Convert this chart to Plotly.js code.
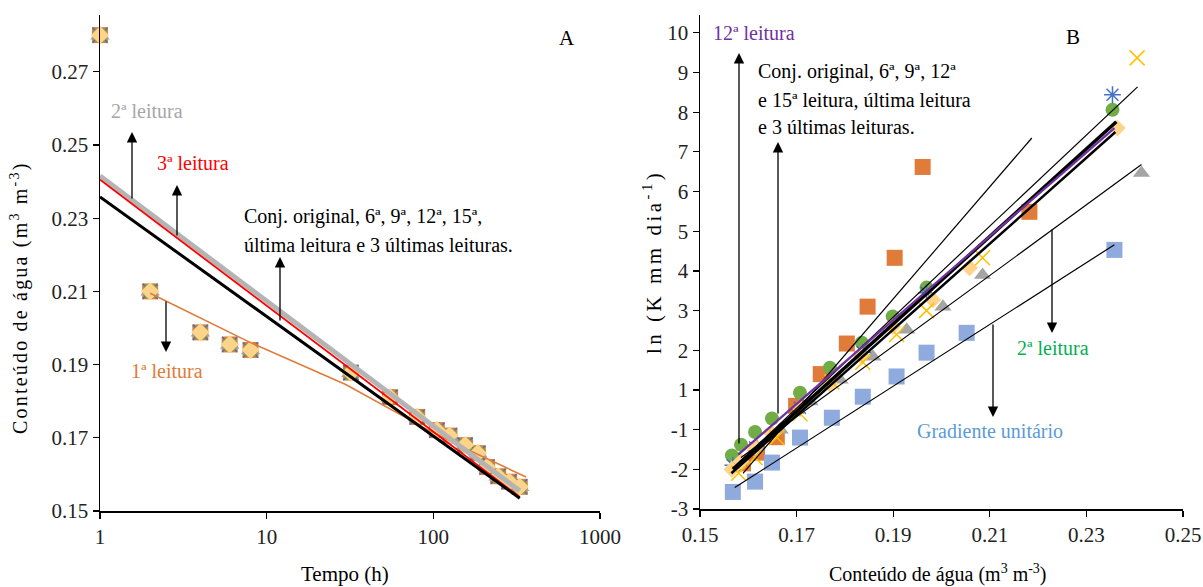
<!DOCTYPE html>
<html>
<head>
<meta charset="utf-8">
<script src="https://cdn.plot.ly/plotly-3.0.1.min.js"></script>
<style>html,body{margin:0;padding:0;background:#fff;}#chart{width:1203px;height:587px;}</style>
</head>
<body>
<div id="chart"></div>
<script>
// ---------- Panel A data ----------
const tempoH = [1, 2, 4, 6, 8, 32, 55, 80, 105, 125, 155, 185, 210, 245, 285, 330];
const umidadeA = [0.280, 0.210, 0.1988, 0.1955, 0.194, 0.1878, 0.1811, 0.1757, 0.1721, 0.1706, 0.168, 0.1658, 0.162, 0.1595, 0.158, 0.1566];

// fitted lines panel A
const linhaCinzaT = [1, 330];
const linhaCinzaY = [0.2415, 0.1555];
const linhaVermT = [1, 330];
const linhaVermY = [0.2405, 0.1538];
const linhaPretaT = [1, 330];
const linhaPretaY = [0.2358, 0.1535];
const linhaLaranjaT = [2, 8, 30, 90, 160, 360];
const linhaLaranjaY = [0.2095, 0.196, 0.1845, 0.1725, 0.1668, 0.1593];

// ---------- Panel B data ----------
const laranjaX = [0.1589, 0.1618, 0.1659, 0.1699, 0.1750, 0.1804, 0.1847, 0.1903, 0.1961, 0.2182];
const laranjaY = [-0.85, -0.58, -0.19, 0.6, 1.4, 2.17, 3.1, 4.33, 6.62, 5.49];
const azulX = [0.1568, 0.1614, 0.1649, 0.1707, 0.1773, 0.1837, 0.1907, 0.1969, 0.2052, 0.2358];
const azulY = [-1.57, -1.31, -0.83, -0.2, 0.3, 0.83, 1.34, 1.94, 2.44, 4.53];
const cinzaX = [0.158, 0.1618, 0.1666, 0.1728, 0.179, 0.1858, 0.1928, 0.2003, 0.2085, 0.2414];
const cinzaY = [-0.76, -0.43, 0.0, 0.71, 1.26, 1.84, 2.52, 3.10, 3.90, 6.47];
const verdeX = [0.1566, 0.1585, 0.1614, 0.1649, 0.1707, 0.1769, 0.1835, 0.1899, 0.1969, 0.2354];
const verdeY = [-0.65, -0.38, -0.06, 0.28, 0.93, 1.56, 2.19, 2.85, 3.58, 8.06];
const pessegoX = [0.1566, 0.1585, 0.1614, 0.1649, 0.1707, 0.1769, 0.1835, 0.1899, 0.1982, 0.2058, 0.2364];
const pessegoY = [-1.0, -0.8, -0.45, -0.1, 0.55, 1.15, 1.85, 2.6, 3.27, 4.08, 7.6];
const amareloX = [0.158, 0.1614, 0.1659, 0.1707, 0.1773, 0.1837, 0.1907, 0.1969, 0.2085, 0.2405];
const amareloY = [-1.1, -0.7, -0.2, 0.4, 1.2, 1.7, 2.4, 3.0, 4.33, 9.37];
const asteriscoX = [0.1568, 0.1614, 0.1707, 0.1837, 0.1969, 0.2354];
const asteriscoY = [-0.9, -0.45, 0.55, 1.95, 3.45, 8.44];

// fitted lines panel B
const retaPretaX = [0.1568, 0.2362];
const retaPretaY = [-1.0, 7.76];
const retaPreta2X = [0.1570, 0.2406];
const retaPreta2Y = [-0.95, 8.64];
const retaPreta3X = [0.1565, 0.2360];
const retaPreta3Y = [-1.1, 7.5];
const retaRoxaX = [0.1579, 0.2358];
const retaRoxaY = [-0.63, 7.6];
const retaLaranjaX = [0.1589, 0.2187];
const retaLaranjaY = [-1.1, 7.35];
const retaCinzaX = [0.1585, 0.2414];
const retaCinzaY = [-0.7, 6.68];
const retaAzulX = [0.1572, 0.2358];
const retaAzulY = [-1.46, 4.66];

// tick labels
const ticksAx = [1, 10, 100, 1000];
const ticksAxText = ['1', '10', '100', '1000'];
const ticksAy = [0.15, 0.17, 0.19, 0.21, 0.23, 0.25, 0.27];
const ticksBx = [0.15, 0.17, 0.19, 0.21, 0.23, 0.25];
const ticksBy = [-2, -1, 0, 1, 2, 3, 4, 5, 6, 7, 8, 9, 10];
const ticksByText = ['-3', '-2', '-1', '1', '2', '3', '4', '5', '6', '7', '8', '9', '10'];

const FONT = 'Liberation Serif, Times New Roman, serif';
const traces = [];

function mk(x, y, sym, size, color, xa, ya, lineColor) {
  return {x: x, y: y, xaxis: xa, yaxis: ya, type: 'scatter', mode: 'markers', cliponaxis: false,
    marker: {symbol: sym, size: size, color: color, line: {width: lineColor ? 1.5 : 0, color: lineColor || color}},
    hoverinfo: 'skip'};
}
function ln(x, y, color, w, xa, ya) {
  return {x: x, y: y, xaxis: xa, yaxis: ya, type: 'scatter', mode: 'lines', cliponaxis: false,
    line: {color: color, width: w}, hoverinfo: 'skip'};
}

// Panel A markers (overlapping series)
traces.push(mk(tempoH, umidadeA, 'square', 16, '#E07B39', 'x', 'y'));
traces.push(mk(tempoH, umidadeA, 'triangle-up', 17, '#A5A5A5', 'x', 'y'));
traces.push(mk(tempoH, umidadeA, 'x-thin', 15, '#4472C4', 'x', 'y', '#4472C4'));
traces.push(mk(tempoH, umidadeA, 'circle', 15, '#70AD47', 'x', 'y'));
traces.push(mk(tempoH, umidadeA, 'diamond', 14, '#FFD38A', 'x', 'y'));
// Panel A lines
traces.push(ln(linhaLaranjaT, linhaLaranjaY, '#E07B39', 1.6, 'x', 'y'));
traces.push(ln(linhaCinzaT, linhaCinzaY, '#B4B4B4', 5, 'x', 'y'));
traces.push(ln(linhaVermT, linhaVermY, '#FF0000', 1.8, 'x', 'y'));
traces.push(ln(linhaPretaT, linhaPretaY, '#000000', 3, 'x', 'y'));

// Panel B markers
traces.push(mk(laranjaX, laranjaY, 'square', 16, '#E07B39', 'x2', 'y2'));
traces.push(mk(azulX, azulY, 'square', 16, '#8FAADC', 'x2', 'y2'));
traces.push(mk(cinzaX, cinzaY, 'triangle-up', 15, '#A5A5A5', 'x2', 'y2'));
traces.push(mk(verdeX, verdeY, 'circle', 14, '#70AD47', 'x2', 'y2'));
traces.push(mk(asteriscoX, asteriscoY, 'asterisk-open', 14, '#4472C4', 'x2', 'y2', '#4472C4'));
traces.push(mk(pessegoX, pessegoY, 'diamond', 13, '#FFD38A', 'x2', 'y2'));
traces.push(mk(amareloX, amareloY, 'x-thin-open', 15, '#FFC000', 'x2', 'y2', '#FFC000'));
// Panel B lines
traces.push(ln(retaAzulX, retaAzulY, '#000000', 1.2, 'x2', 'y2'));
traces.push(ln(retaCinzaX, retaCinzaY, '#000000', 1.2, 'x2', 'y2'));
traces.push(ln(retaLaranjaX, retaLaranjaY, '#000000', 1.2, 'x2', 'y2'));
traces.push(ln(retaPreta3X, retaPreta3Y, '#000000', 2.5, 'x2', 'y2'));
traces.push(ln(retaPretaX, retaPretaY, '#000000', 3.5, 'x2', 'y2'));
traces.push(ln(retaPreta2X, retaPreta2Y, '#000000', 1.2, 'x2', 'y2'));
traces.push(ln(retaRoxaX, retaRoxaY, '#7030A0', 2.2, 'x2', 'y2'));

const W = 1203, H = 587;
const px = v => v / W;
const py = v => 1 - v / H;

function arrow(hx, hy, tx, ty) {
  return {xref: 'paper', yref: 'paper', x: px(hx), y: py(hy), ax: tx - hx, ay: ty - hy,
    showarrow: true, arrowhead: 2, arrowsize: 1.6, arrowwidth: 1.3, arrowcolor: '#000', text: ''};
}
function txt(t, x, y, color, size, anchor, angle) {
  return {xref: 'paper', yref: 'paper', x: px(x), y: py(y), text: t, showarrow: false,
    xanchor: anchor || 'center', yanchor: 'middle', textangle: angle || 0,
    font: {family: FONT, size: size || 20, color: color || '#000'}};
}

const annotations = [
  txt('A', 567, 38, '#000', 21),
  txt('2ª leitura', 147, 111, '#A6A6A6', 20),
  txt('3ª leitura', 193, 163, '#FF0000', 20),
  txt('Conj. original, 6ª, 9ª, 12ª, 15ª,', 242, 217, '#000', 20, 'left'),
  txt('última leitura e 3 últimas leituras.', 242, 245, '#000', 20, 'left'),
  txt('1ª leitura', 167, 371, '#E07B39', 20),
  arrow(132, 132, 132, 200),
  arrow(177, 185, 177, 237),
  arrow(280, 257, 280, 322),
  arrow(166, 352, 166, 300),
  txt('Tempo (h)', 345, 574, '#000', 21),
  txt('<span style="letter-spacing:2.2px">Conteúdo de água (m<sup>3</sup> m<sup>-3</sup>)</span>', 20, 298, '#000', 20, 'center', -90),

  txt('B', 1073, 37, '#000', 21),
  txt('12ª leitura', 711, 33, '#7030A0', 20, 'left'),
  txt('Conj. original, 6ª, 9ª, 12ª', 756, 72, '#000', 20, 'left'),
  txt('e 15ª leitura, última leitura', 756, 100, '#000', 20, 'left'),
  txt('e 3 últimas leituras.', 756, 127, '#000', 20, 'left'),
  txt('2ª leitura', 1053, 348, '#00B050', 20),
  txt('Gradiente unitário', 990, 431, '#5B9BD5', 20),
  arrow(739, 53, 739, 445),
  arrow(778, 142, 778, 415),
  arrow(1052, 333, 1052, 228),
  arrow(993, 417, 993, 323),
  txt('Conteúdo de água (m<sup>3</sup> m<sup>-3</sup>)', 938, 573, '#000', 20),
  txt('<span style="letter-spacing:3.5px">ln (K mm dia<sup>-1</sup>)</span>', 652, 262, '#000', 21, 'center', -90)
];

const axBase = {showline: true, linecolor: '#000', linewidth: 1.5, ticks: 'outside', ticklen: 6,
  tickcolor: '#000', tickwidth: 1.2, showgrid: false, zeroline: false,
  tickfont: {family: FONT, size: 21, color: '#222'}, fixedrange: true};

const layout = {
  width: W, height: H, margin: {l: 0, r: 0, t: 0, b: 0},
  paper_bgcolor: '#fff', plot_bgcolor: '#fff', showlegend: false,
  xaxis: Object.assign({}, axBase, {domain: [px(100), px(600)], type: 'log', range: [0, 3],
    tickvals: ticksAx, ticktext: ticksAxText, anchor: 'y'}),
  yaxis: Object.assign({}, axBase, {domain: [py(511), py(15)], range: [0.15, 0.2855],
    tickvals: ticksAy, tickformat: '.2f', anchor: 'x'}),
  xaxis2: Object.assign({}, axBase, {domain: [px(700), px(1183)], range: [0.15, 0.25],
    tickvals: ticksBx, tickformat: '.2f', anchor: 'y2'}),
  yaxis2: Object.assign({}, axBase, {domain: [py(509), py(15)], range: [-2, 10.45],
    tickvals: ticksBy, ticktext: ticksByText, anchor: 'x2'}),
  annotations: annotations
};

Plotly.newPlot('chart', traces, layout, {staticPlot: true, displayModeBar: false});
</script>
</body>
</html>
